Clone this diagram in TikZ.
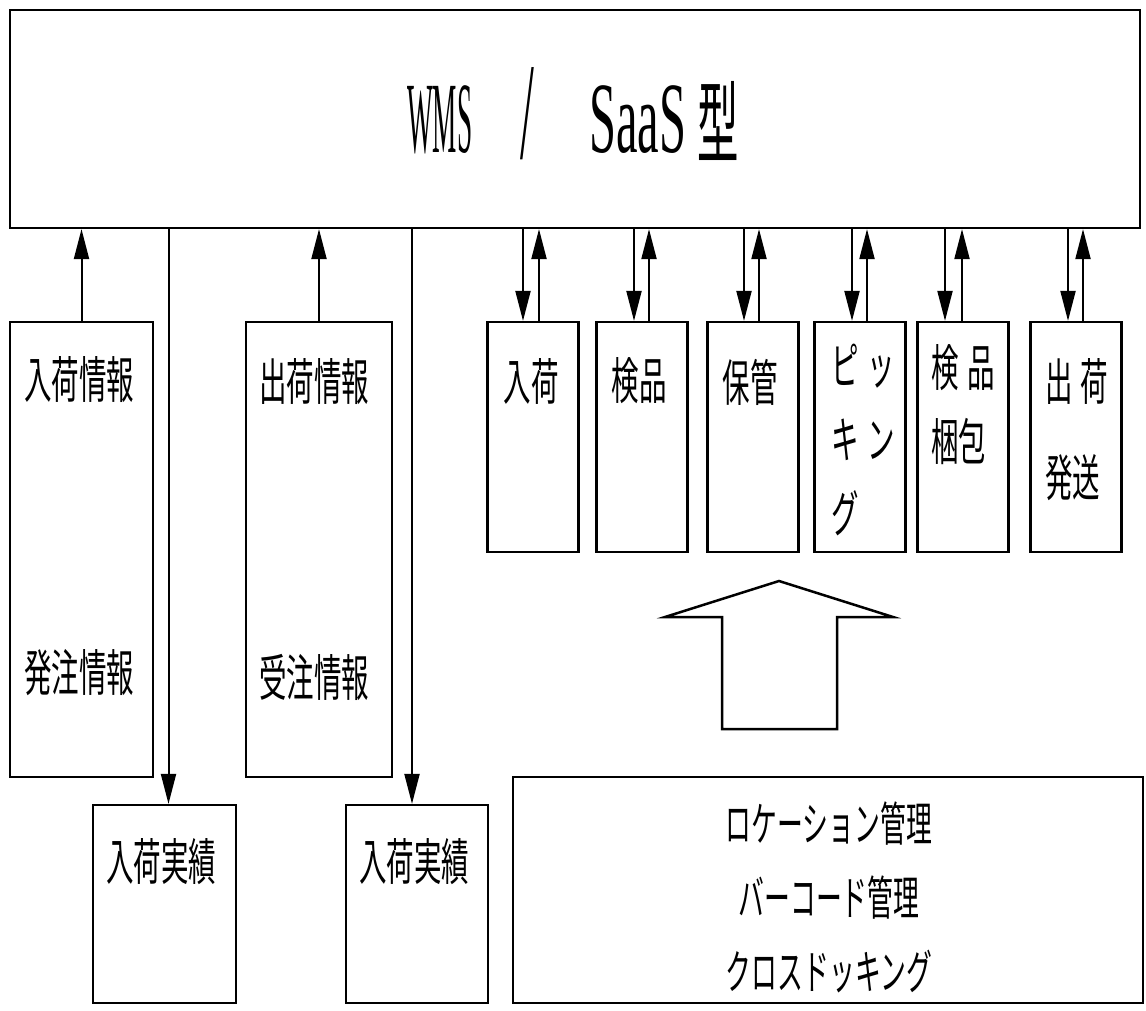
\documentclass[tikz,border=0pt]{standalone}
\usepackage{fontspec}
\newfontfamily\jp[FakeStretch=0.55]{Noto Sans CJK JP}
\newfontfamily\jpt[FakeStretch=0.46]{Noto Sans CJK JP}
\newfontfamily\latA[FakeStretch=0.27]{Liberation Serif}
\newfontfamily\latB[FakeStretch=0.48]{Liberation Serif}
\newfontfamily\latC[FakeStretch=0.36]{Liberation Serif}
\usetikzlibrary{arrows.meta}
\begin{document}
\begin{tikzpicture}[x=1pt,y=-1pt,
  box/.style={draw, line width=2.2pt, rectangle, inner sep=0pt},
  lbl/.style={inner sep=0pt, font=\jp\fontsize{50}{74}\selectfont, align=center},
  arr/.style={line width=2pt, -{Triangle[length=30pt,width=15pt]}}]
\useasboundingbox (0,0) rectangle (1146,1010);
% main box
\node[box, minimum width=1130pt, minimum height=218pt] (wms) at (575,119) {};
\node[anchor=base west, inner sep=0pt] (title) at (407,152)
  {{\latA\fontsize{101}{100}\selectfont WMS}\hspace{48pt}{\latC\fontsize{138}{100}\selectfont\raisebox{-6pt}{/}}\hspace{55pt}{\latB\fontsize{101}{100}\selectfont SaaS}\hspace{11pt}{\jpt\fontsize{90}{90}\selectfont\raisebox{-4pt}{型}}};
% left info boxes
\node[box, minimum width=143pt, minimum height=455pt] (info1) at (81.5,549.5) {};
\node[box, minimum width=146pt, minimum height=455pt] (info2) at (319,549.5) {};
\node[lbl] (t1a) at (79,380) {入荷情報};
\node[lbl] (t1b) at (79,673) {発注情報};
\node[lbl] (t2a) at (314,382) {出荷情報};
\node[lbl] (t2b) at (314,677) {受注情報};
% result boxes
\node[box, minimum width=143pt, minimum height=198pt] (res1) at (164.5,904) {};
\node[box, minimum width=142pt, minimum height=198pt] (res2) at (417,904) {};
\node[lbl] (r1) at (161,862) {入荷実績};
\node[lbl] (r2) at (414,862) {入荷実績};
% process boxes
\node[box, minimum width=91pt, minimum height=230pt] (p1) at (533,437) {};
\node[box, minimum width=91pt, minimum height=230pt] (p2) at (642,437) {};
\node[box, minimum width=91pt, minimum height=230pt] (p3) at (753,437) {};
\node[box, minimum width=91pt, minimum height=230pt] (p4) at (860,437) {};
\node[box, minimum width=91pt, minimum height=230pt] (p5) at (963,437) {};
\node[box, minimum width=91pt, minimum height=230pt] (p6) at (1076,437) {};
\node[lbl] (l1) at (531,381) {入荷};
\node[lbl] (l2) at (639,381) {検品};
\node[lbl] (l3) at (750,382) {保管};
\node[lbl, align=left, anchor=west] (l4) at (831,440) {ピ\hspace{9pt}ッ\\キ\hspace{9pt}ン\\グ};
\node[lbl, align=left, anchor=west] (l5) at (931,405) {検\hspace{9pt}品\\梱包};
\node[lbl, align=left, anchor=west, font=\jp\fontsize{50}{96}\selectfont] (l6) at (1045,430) {出\hspace{8pt}荷\\発送};
% bottom right box
\node[box, minimum width=630pt, minimum height=226pt] (feat) at (828,890) {};
\node[lbl, font=\jp\fontsize{47}{74}\selectfont] (ft) at (829,897) {ロケーション管理\\バーコード管理\\クロスドッキング};
% big arrow
\draw[line width=2.5pt, line join=miter] (779,581) -- (893,617) -- (837,617) -- (837,729) -- (722,729) -- (722,617) -- (665,617) -- cycle;
% connectors
\draw[arr] (info1.north) -- (info1.north |- wms.south);
\draw[arr] (info2.north) -- (info2.north |- wms.south);
\draw[arr] ([xshift=4pt]res1.north |- wms.south) -- ([xshift=4pt]res1.north);
\draw[arr] ([xshift=-5pt]res2.north |- wms.south) -- ([xshift=-5pt]res2.north);
\foreach \p/\d/\u in {p1/-10/6, p2/-8/7, p3/-9/6, p4/-8/7, p5/-18/-1, p6/-8/7}{
  \draw[arr] ([xshift=\d pt]\p.north |- wms.south) -- ([xshift=\d pt]\p.north);
  \draw[arr] ([xshift=\u pt]\p.north) -- ([xshift=\u pt]\p.north |- wms.south);
}
\end{tikzpicture}
\end{document}
